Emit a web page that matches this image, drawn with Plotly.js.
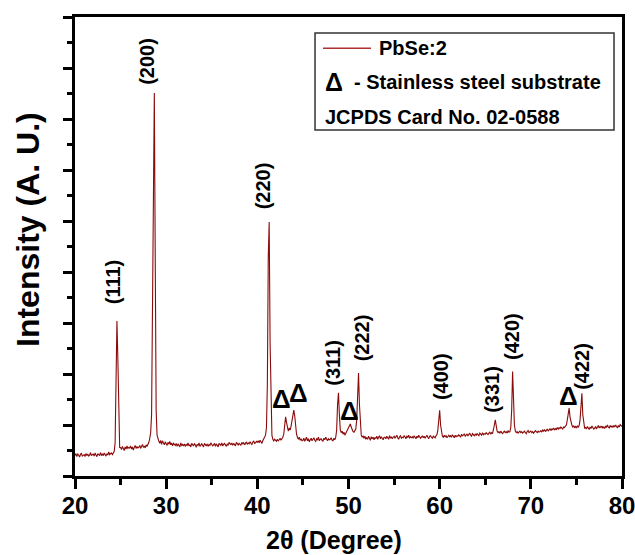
<!DOCTYPE html>
<html><head><meta charset="utf-8">
<script src="https://cdn.plot.ly/plotly-3.0.1.min.js"></script>
<style>html,body{margin:0;padding:0;background:#fff}#chart{width:635px;height:555px}</style>
</head><body><div id="chart"></div>
<script>
// ---- data ----
const twoThetaStart = 20;   // degrees
const twoThetaStep = 0.1;   // degrees per sample
const intensity = [
 400,440,380,430,410,370,420,450,390,410,
 420,380,440,400,430,390,410,460,400,420,
 430,390,450,410,380,440,420,400,460,410,
 430,400,450,420,390,440,410,470,420,440,
 450,420,470,480,650,1600,3040,2300,900,560,
 560,520,580,540,500,570,530,590,540,560,
 550,590,530,570,510,560,600,540,580,550,
 560,600,540,580,620,560,590,550,610,580,
 620,660,740,850,1200,3600,6900,7510,4300,1300,
 800,700,680,640,700,620,690,650,610,670,
 640,600,660,620,680,610,650,590,640,620,
 600,640,580,630,610,570,650,600,620,590,
 630,580,620,600,650,590,610,570,640,600,
 590,630,610,560,620,600,650,580,610,630,
 600,570,640,610,590,630,580,620,600,650,
 620,590,610,640,580,630,600,570,640,610,
 600,650,590,620,640,610,580,630,600,660,
 630,610,650,600,640,620,590,660,630,610,
 640,620,600,660,630,650,610,640,670,620,
 650,630,670,640,620,660,690,640,650,680,
 660,690,650,700,670,640,690,720,760,800,
 950,1800,4300,4980,2600,1100,800,720,690,720,
 700,680,720,690,710,740,700,720,760,820,
 950,1160,1050,920,880,940,900,980,1100,1200,
 1290,1180,950,820,760,720,760,700,730,690,
 700,740,680,720,760,690,730,670,710,740,
 690,720,750,700,680,730,710,760,690,720,
 730,700,680,740,710,760,700,690,730,710,
 720,750,700,690,740,710,760,900,1400,1630,
 1200,900,850,880,820,860,800,840,880,900,
 940,980,1020,960,900,870,860,880,920,1100,
 1500,2020,1400,900,800,760,790,740,780,720,
 750,720,780,740,700,770,730,760,710,750,
 740,780,720,760,790,730,770,740,710,760,
 760,730,780,750,720,790,740,770,730,760,
 780,740,760,800,750,720,770,790,740,760,
 750,790,770,730,780,760,800,740,770,750,
 770,740,790,760,730,780,750,800,760,740,
 760,790,750,780,740,770,800,760,730,780,
 790,760,740,780,770,750,790,810,900,1100,
 1290,1000,830,780,760,800,770,790,750,780,
 800,770,790,760,810,780,750,800,770,790,
 780,810,790,760,820,790,800,830,780,810,
 820,790,810,840,800,780,830,810,790,820,
 800,830,810,790,840,820,800,850,810,830,
 820,850,830,810,840,860,820,850,830,900,
 1000,1100,940,880,850,870,840,880,850,830,
 860,880,850,870,840,890,860,870,950,1300,
 2050,1500,1000,880,850,870,840,860,880,850,
 870,840,860,880,850,830,870,890,850,860,
 880,850,870,840,860,890,870,850,880,860,
 870,890,860,900,880,910,870,890,920,880,
 900,930,890,920,910,940,900,930,910,950,
 920,950,930,960,940,920,960,950,980,1000,
 1100,1250,1330,1150,1050,1000,960,980,950,970,
 940,980,960,990,1100,1400,1620,1200,990,940,
 950,920,970,940,910,960,930,980,950,920,
 940,970,920,960,990,940,970,950,980,940,
 960,930,980,950,1000,960,940,990,960,980,
 950,990,960,1000,970,940,990,960,1010,980,
 970
];
const seriesName = 'PbSe:2';
const hklLabels = ['(111)','(200)','(220)','(311)','(222)','(400)','(331)','(420)','(422)'];
const substrateMark = 'Δ';
const legendNotes = ['- Stainless steel substrate', 'JCPDS Card No. 02-0588'];
const xTitle = '2θ (Degree)';
const yTitle = 'Intensity (A. U.)';

// ---- layout placement (label anchors in axis units) ----
const hklLabelPos = [[24.17,3800],[27.95,8130],[40.57,5690],[48.30,2220],[51.43,2710],[60.15,1940],[65.74,1690],[67.93,2745],[75.61,2160]];
const substrateLabelPos = [[42.65,1510],[44.52,1627],[50.11,1275],[74.08,1569]];

const FONT = 'Liberation Sans, Arial, sans-serif';
const annotations = [];
hklLabels.forEach((t,i)=>{
  annotations.push({x:hklLabelPos[i][0], y:hklLabelPos[i][1], xref:'x', yref:'y', text:t, textangle:-90,
    showarrow:false, xanchor:'center', yanchor:'middle', font:{family:FONT,size:20,weight:'bold',color:'#000'}});
});
substrateLabelPos.forEach(p=>{
  annotations.push({x:p[0], y:p[1], xref:'x', yref:'y', text:substrateMark, showarrow:false,
    xanchor:'center', yanchor:'middle', font:{family:FONT,size:26,weight:'bold',color:'#000'}});
});
// axis titles
annotations.push({xref:'paper', yref:'paper', x:-0.0859, y:0.536, text:yTitle, textangle:-90, showarrow:false,
  xanchor:'center', yanchor:'middle', font:{family:FONT,size:32,weight:'bold',color:'#000'}});
annotations.push({xref:'paper', yref:'paper', x:0.4735, y:-0.1395, text:xTitle, showarrow:false,
  xanchor:'center', yanchor:'middle', font:{family:FONT,size:25,weight:'bold',color:'#000'}});
// legend box contents
annotations.push({xref:'paper', yref:'paper', x:0.5521, y:0.9318, text:seriesName, showarrow:false,
  xanchor:'left', yanchor:'middle', font:{family:FONT,size:20,weight:'bold',color:'#000'}});
annotations.push({xref:'paper', yref:'paper', x:0.4534, y:0.859, text:substrateMark, showarrow:false,
  xanchor:'left', yanchor:'middle', font:{family:FONT,size:25,weight:'bold',color:'#000'}});
annotations.push({xref:'paper', yref:'paper', x:0.5064, y:0.859, text:legendNotes[0], showarrow:false,
  xanchor:'left', yanchor:'middle', font:{family:FONT,size:20,weight:'bold',color:'#000'}});
annotations.push({xref:'paper', yref:'paper', x:0.4534, y:0.7828, text:legendNotes[1], showarrow:false,
  xanchor:'left', yanchor:'middle', font:{family:FONT,size:20,weight:'bold',color:'#000'}});

const shapes = [
  {type:'rect', xref:'paper', yref:'paper', x0:0.4388, x1:0.9854, y0:0.7538, y1:0.9651, line:{color:'#333', width:1.5}},
  {type:'line', xref:'paper', yref:'paper', x0:0.4534, x1:0.5411, y0:0.9318, y1:0.9318, line:{color:'#b03030', width:1.5}}
];

const trace = {type:'scatter', mode:'lines', name:seriesName, x0:twoThetaStart, dx:twoThetaStep, y:intensity,
  line:{color:'#8b0a0a', width:1.1}, showlegend:false, hoverinfo:'skip'};

const layout = {
  width:635, height:555,
  margin:{l:75, r:13, t:17, b:79},
  paper_bgcolor:'#fff', plot_bgcolor:'#fff',
  showlegend:false,
  xaxis:{range:[20,80], dtick:10, tick0:20, ticks:'outside', ticklen:10, tickwidth:3, tickcolor:'#000',
    showline:true, linewidth:3, linecolor:'#000', mirror:true, showgrid:false, zeroline:false,
    ticklabeloverflow:'allow', ticklabelstandoff:-4,
    tickfont:{family:FONT,size:24,weight:'bold',color:'#000'},
    minor:{dtick:5, tick0:20, ticks:'outside', ticklen:6, tickwidth:3, tickcolor:'#000', showgrid:false}},
  yaxis:{range:[0,9000], dtick:1000, tick0:0, ticks:'outside', ticklen:9, tickwidth:3, tickcolor:'#000',
    showline:true, linewidth:3, linecolor:'#000', mirror:true, showgrid:false, zeroline:false, showticklabels:false,
    minor:{dtick:500, tick0:0, ticks:'outside', ticklen:5, tickwidth:3, tickcolor:'#000', showgrid:false}},
  annotations:annotations, shapes:shapes
};
Plotly.newPlot('chart',[trace],layout,{displayModeBar:false, staticPlot:true});
</script></body></html>
